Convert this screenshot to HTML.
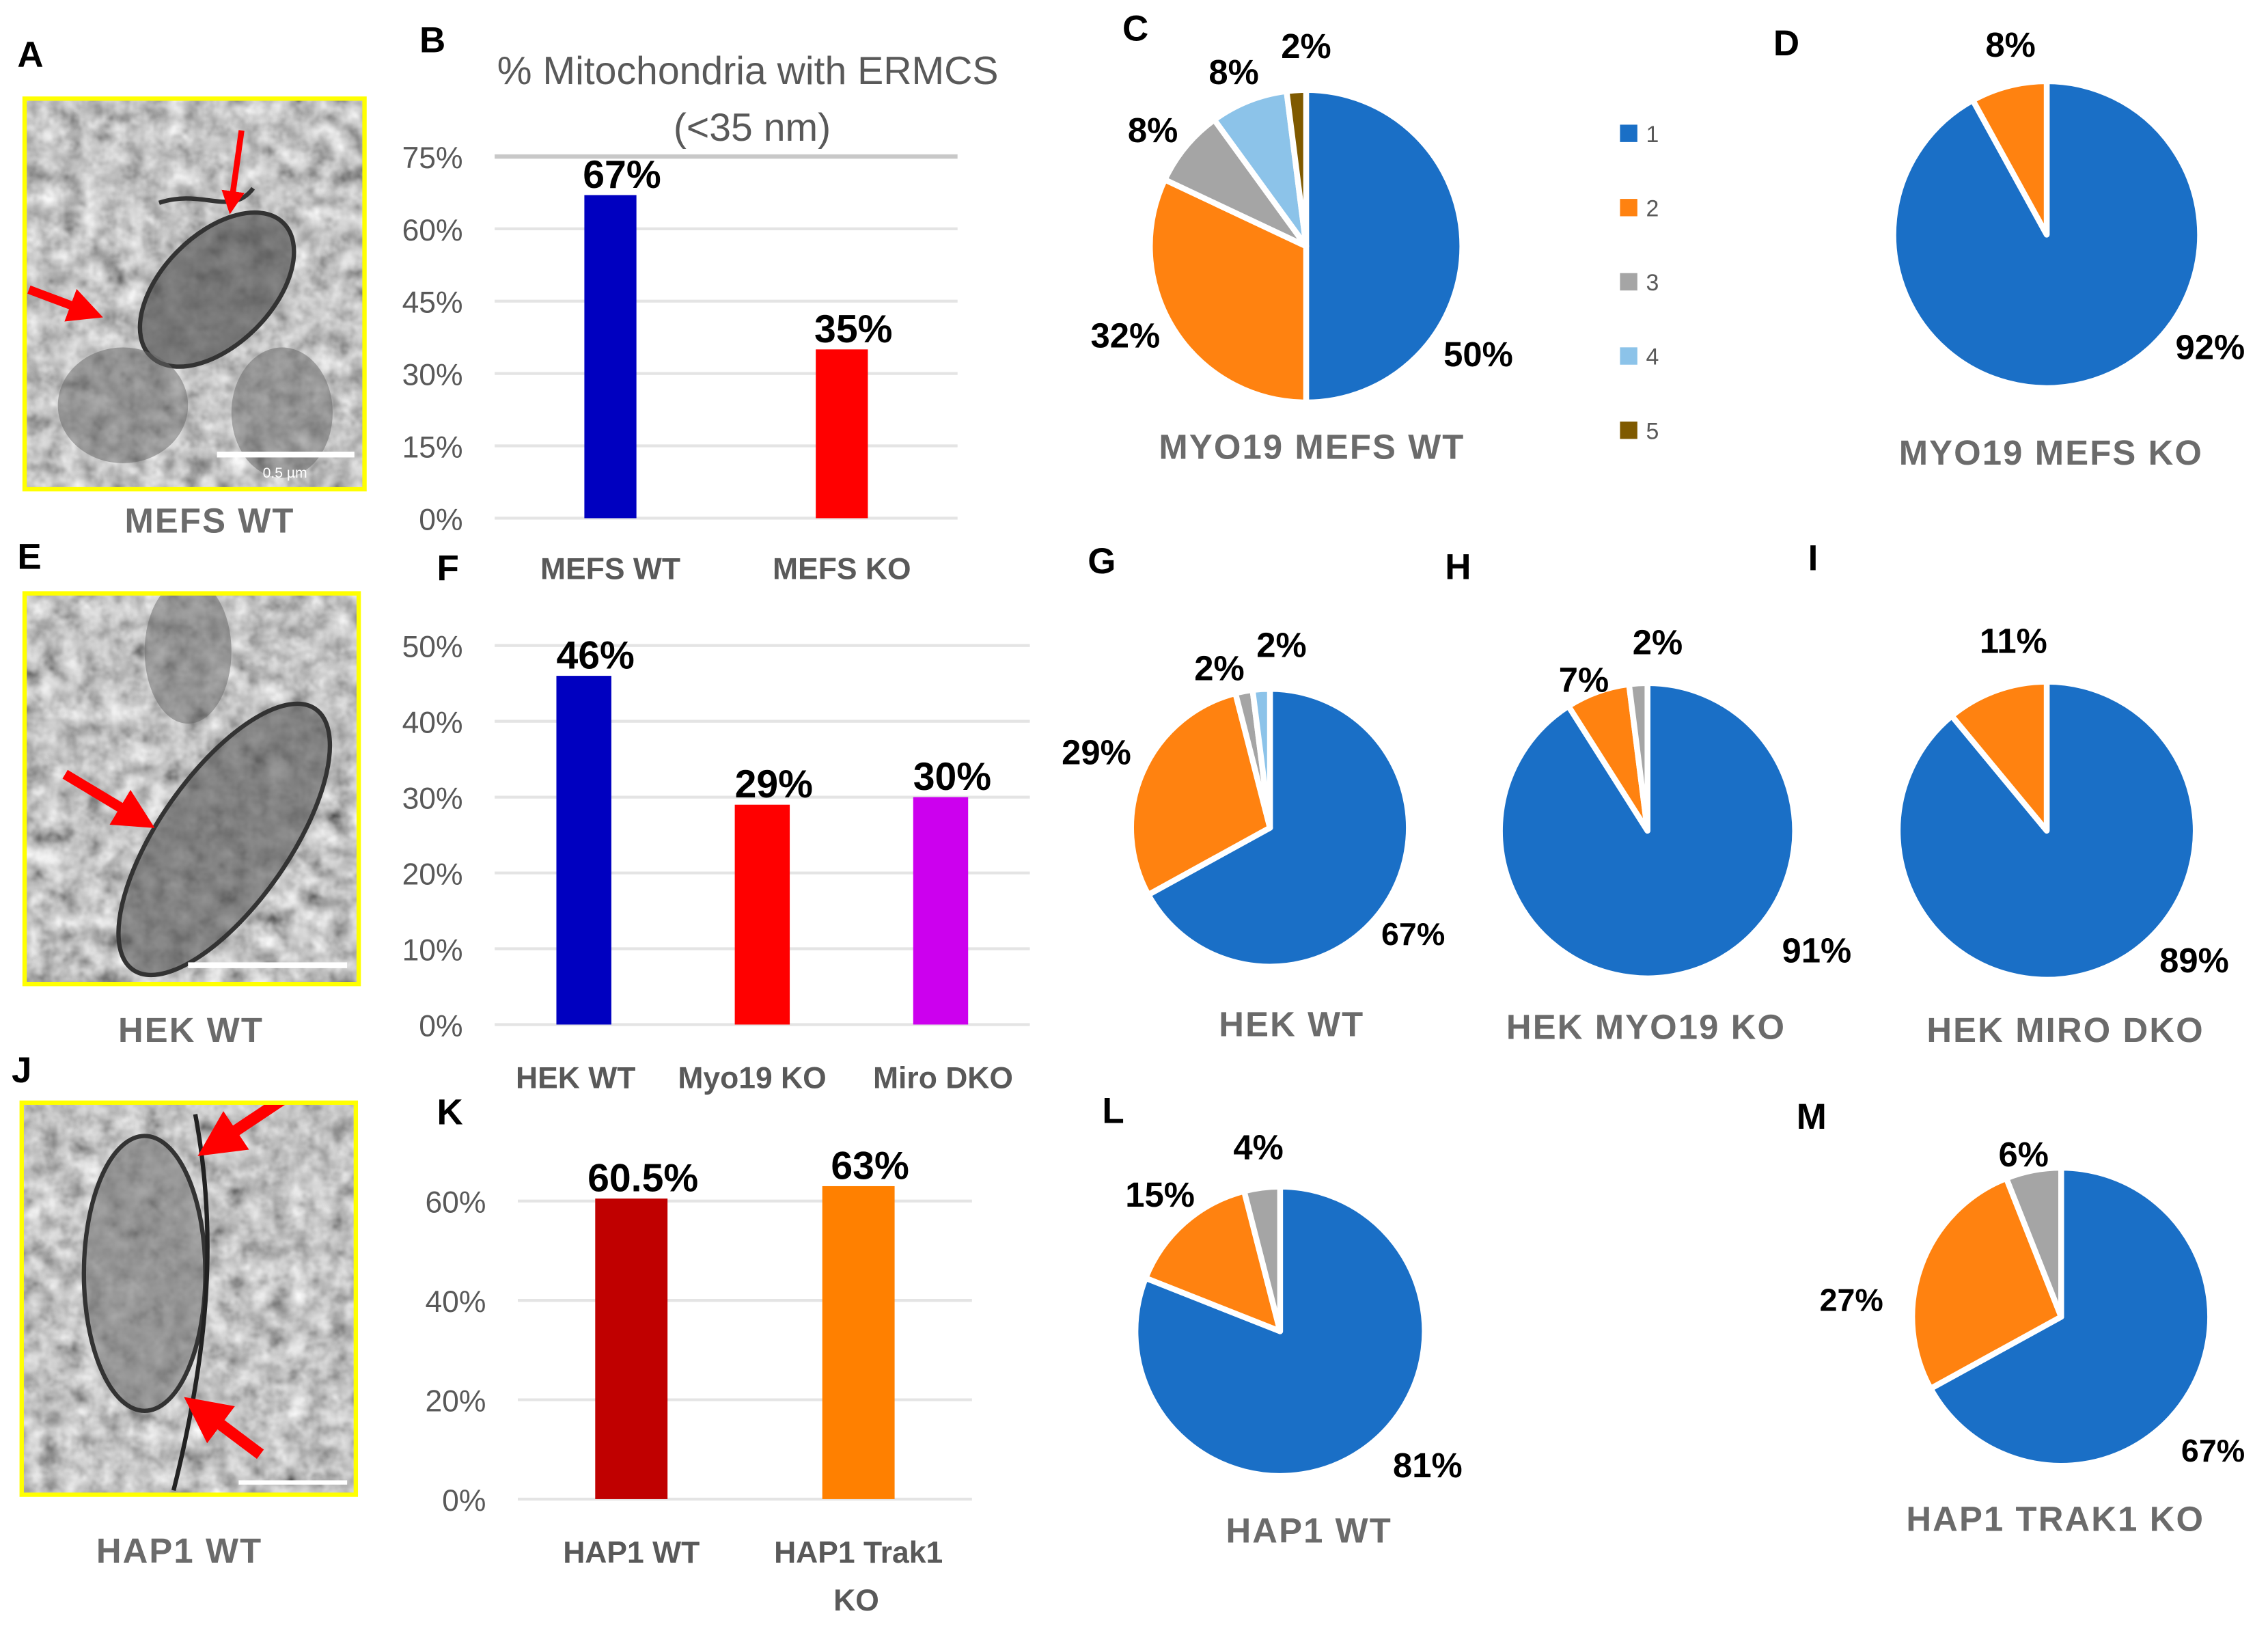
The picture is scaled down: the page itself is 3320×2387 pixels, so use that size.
<!DOCTYPE html>
<html><head><meta charset="utf-8"><style>
html,body{margin:0;padding:0;background:#fff;}
svg{display:block;font-family:"Liberation Sans",Arial,sans-serif;}
.lt{font-weight:bold;font-size:25px;fill:#000;}
.tk{font-size:21px;fill:#595959;}
.vl{font-weight:bold;font-size:27px;fill:#000;}
.ct{font-weight:bold;font-size:21px;fill:#595959;}
.pt{font-weight:bold;font-size:24px;fill:#6b6b6b;letter-spacing:1px;}
.pl{font-weight:bold;font-size:24px;fill:#000;}
</style></head><body>
<svg id="fig" width="3320" height="2387" viewBox="0 0 1568 1127" xmlns="http://www.w3.org/2000/svg">
<defs>
<filter id="em" x="0" y="0" width="100%" height="100%">
<feTurbulence type="fractalNoise" baseFrequency="0.07" numOctaves="3" seed="3"/>
<feColorMatrix type="matrix" values="0.33 0.33 0.33 0 0  0.33 0.33 0.33 0 0  0.33 0.33 0.33 0 0  0 0 0 0 1"/>
<feComponentTransfer><feFuncR type="linear" slope="1.6" intercept="-0.25"/><feFuncG type="linear" slope="1.6" intercept="-0.25"/><feFuncB type="linear" slope="1.6" intercept="-0.25"/></feComponentTransfer>
</filter>
<clipPath id="c1"><rect x="17" y="68" width="235" height="270"/></clipPath>
<clipPath id="c2"><rect x="17" y="410" width="231" height="270"/></clipPath>
<clipPath id="c3"><rect x="15" y="762" width="231" height="271"/></clipPath>
<marker id="ah" markerWidth="4" markerHeight="4" refX="2" refY="2" orient="auto"><path d="M0,0 L4,2 L0,4 z" fill="#f00"/></marker>
</defs>
<g id="root"></g>
</svg>
<script>
// ---------- data ----------
const barBcats = ["MEFS WT","MEFS KO"];
const barBvals = [67,35];
const barBlabels = ["67%","35%"];
const barBticks = [0,15,30,45,60,75];
const barFcats = ["HEK WT","Myo19 KO","Miro DKO"];
const barFvals = [46,29,30];
const barFlabels = ["46%","29%","30%"];
const barFticks = [0,10,20,30,40,50];
const barKcats = ["HAP1 WT","HAP1 Trak1"];
const barKvals = [60.5,63];
const barKlabels = ["60.5%","63%"];
const barKticks = [0,20,40,60];
const pieC = [50,32,8,8,2];
const pieD = [92,8];
const pieG = [67,29,2,2];
const pieH = [91,7,2];
const pieI = [89,11];
const pieL = [81,15,4];
const pieM = [67,27,6];
const legendLabels = ["1","2","3","4","5"];

const NS="http://www.w3.org/2000/svg";
const root=document.getElementById('root');
function mk(tag,attrs,parent,txt){const e=document.createElementNS(NS,tag);for(const k in attrs)e.setAttribute(k,attrs[k]);if(txt!==undefined)e.textContent=txt;(parent||root).appendChild(e);return e;}
const pieColors=["#1a6fc6","#ff8210","#a5a5a5","#8cc3e9","#7f5a00"];

function text(x,y,s,cls,name,anchor){const t=mk('text',{x:x,y:y,class:cls,'text-anchor':anchor||'middle'},root,s);

return t;}

// EM images
function em(x,y,w,h,name,clip,draw){
 const g=mk('g',{'clip-path':'url(#'+clip+')'});
 
 
 mk('rect',{x:x,y:y,width:w,height:h,fill:'#999',filter:'url(#em)'},g);
 draw(g);
 const b=mk('rect',{x:x,y:y,width:w,height:h,fill:'none',stroke:'#ffff00','stroke-width':3});
 
 
}
em(17,68,235,270,'em-image-mefs','c1',g=>{
 mk('ellipse',{cx:150,cy:200,rx:38,ry:65,transform:'rotate(45 150 200)',fill:'#555',stroke:'#333','stroke-width':3,'fill-opacity':0.7},g);
 mk('ellipse',{cx:85,cy:280,rx:45,ry:40,fill:'#666','fill-opacity':0.5},g);
 mk('ellipse',{cx:195,cy:285,rx:35,ry:45,fill:'#666','fill-opacity':0.5},g);
 mk('path',{d:'M110,140 C140,130 160,150 175,130',stroke:'#333','stroke-width':3,fill:'none'},g);
 mk('line',{x1:167,y1:90,x2:160,y2:140,stroke:'#f00','stroke-width':4,'marker-end':'url(#ah)'},g);
 mk('line',{x1:20,y1:200,x2:60,y2:215,stroke:'#f00','stroke-width':6,'marker-end':'url(#ah)'},g);
 mk('rect',{x:150,y:312,width:95,height:4,fill:'#fff'},g);
 mk('text',{x:197,y:330,'font-size':10,fill:'#fff','text-anchor':'middle'},g,'0.5 µm');
});
em(17,410,231,270,'em-image-hek','c2',g=>{
 mk('ellipse',{cx:155,cy:580,rx:45,ry:110,transform:'rotate(35 155 580)',fill:'#555','fill-opacity':0.6,stroke:'#333','stroke-width':3},g);
 mk('ellipse',{cx:130,cy:450,rx:30,ry:50,fill:'#666','fill-opacity':0.5},g);
 mk('line',{x1:45,y1:535,x2:95,y2:565,stroke:'#f00','stroke-width':7,'marker-end':'url(#ah)'},g);
 mk('rect',{x:130,y:665,width:110,height:4,fill:'#fff'},g);
});
em(15,762,231,271,'em-image-hap1','c3',g=>{
 mk('ellipse',{cx:100,cy:880,rx:42,ry:95,fill:'#777','fill-opacity':0.6,stroke:'#333','stroke-width':3},g);
 mk('path',{d:'M135,770 C150,850 145,930 120,1030',stroke:'#222','stroke-width':3,fill:'none'},g);
 mk('line',{x1:195,y1:760,x2:150,y2:790,stroke:'#f00','stroke-width':8,'marker-end':'url(#ah)'},g);
 mk('line',{x1:180,y1:1005,x2:140,y2:975,stroke:'#f00','stroke-width':8,'marker-end':'url(#ah)'},g);
 mk('rect',{x:165,y:1023,width:75,height:3,fill:'#fff'},g);
});

// Bar chart
function bars(name,cats,vals,labels,ticks,colors,y0,yTop,x0,x1,barW,catY,catX){
 const g=mk('g',{});
 
 
 const tmax=ticks[ticks.length-1];
 const ys=v=>y0-(v/tmax)*(y0-yTop);
 ticks.forEach(t=>{
  const top=t===tmax&&name==='bar-chart-b';
  const l=mk('line',{x1:x0,x2:x1,y1:ys(t),y2:ys(t),stroke:top?'#c8c8c8':'#e4e4e4','stroke-width':top?3:2},g);
  
  
  const tt=mk('text',{x:x0-22,y:ys(t)+8,class:'tk','text-anchor':'end'},g,t+'%');
  
  
 });
 const band=(x1-x0)/cats.length;
 cats.forEach((c,i)=>{
  const cx=x0+band*(i+0.5);
  const r=mk('rect',{x:cx-barW/2,y:ys(vals[i]),width:barW,height:y0-ys(vals[i]),fill:colors[i]},g);
  
  
  const v=mk('text',{x:cx+8,y:ys(vals[i])-5,class:'vl','text-anchor':'middle'},g,labels[i]);
  
  
  const ct=mk('text',{x:catX?catX[i]:cx,y:catY,class:'ct','text-anchor':'middle'},g,c);
  
  
 });
 return g;
}
bars('bar-chart-b',barBcats,barBvals,barBlabels,barBticks,['#0000c0','#ff0000'],358,108,342,662,36,400);
bars('bar-chart-f',barFcats,barFvals,barFlabels,barFticks,['#0000c0','#ff0000','#cc00ee'],708,446,342,712,38,752,[398,520,652]);
bars('bar-chart-k',barKcats,barKvals,barKlabels,barKticks,['#c00000','#ff8000'],1036,830,358,672,50,1080);
text(592,1113,'KO','ct','category-label-ko');
text(517,58,'% Mitochondria with ERMCS','tk','chart-title-b').setAttribute('style','font-size:27px');
text(520,97,'(<35 nm)','tk','chart-subtitle-b').setAttribute('style','font-size:27px');

// Pies
function pie(name,cx,cy,r,vals){
 const g=mk('g',{});
 
 
 const tot=vals.reduce((a,b)=>a+b,0);
 let a=-Math.PI/2;
 vals.forEach((v,i)=>{
  const a2=a+v/tot*2*Math.PI;
  const large=(a2-a)>Math.PI?1:0;
  const d=`M${cx},${cy} L${cx+r*Math.cos(a)},${cy+r*Math.sin(a)} A${r},${r} 0 ${large} 1 ${cx+r*Math.cos(a2)},${cy+r*Math.sin(a2)} Z`;
  const p=mk('path',{d:d,fill:pieColors[i],stroke:'#fff','stroke-width':4,'stroke-linejoin':'round'},g);
  
  
  a=a2;
 });
}
pie('pie-c',903,170,108,pieC);
pie('pie-d',1415,162,106,pieD);
pie('pie-g',878,572,96,pieG);
pie('pie-h',1139,574,102,pieH);
pie('pie-i',1415,574,103,pieI);
pie('pie-l',885,920,100,pieL);
pie('pie-m',1425,910,103,pieM);

// pie percent labels
[[1022,253,'50%'],[778,240,'32%'],[797,98,'8%'],[853,58,'8%'],[903,40,'2%'],
 [1390,39,'8%'],[1528,248,'92%'],
 [977,653,'67%','s'],[758,528,'29%'],[843,470,'2%'],[886,454,'2%'],
 [1256,665,'91%'],[1095,478,'7%'],[1146,452,'2%'],
 [1392,451,'11%'],[1517,672,'89%'],
 [987,1021,'81%'],[802,834,'15%'],[870,801,'4%'],
 [1530,1010,'67%','s'],[1280,906,'27%','s'],[1399,806,'6%']
].forEach(l=>{const t=text(l[0],l[1],l[2],'pl','pie-percent-label');if(l[3])t.setAttribute('style','font-size:22px');});

// pie titles
[[907,317,'MYO19 MEFS WT'],[1418,321,'MYO19 MEFS KO'],[893,716,'HEK WT'],[1138,718,'HEK MYO19 KO'],[1428,720,'HEK MIRO DKO'],[905,1066,'HAP1 WT'],[1421,1058,'HAP1 TRAK1 KO'],
 [145,368,'MEFS WT'],[132,720,'HEK WT'],[124,1080,'HAP1 WT']
].forEach(l=>text(l[0],l[1],l[2],'pt','panel-title'));

// panel letters
[[12,46,'A'],[290,36,'B'],[776,28,'C'],[1226,38,'D'],[12,393,'E'],[302,401,'F'],[752,396,'G'],[999,400,'H'],[1250,394,'I'],[8,748,'J'],[302,777,'K'],[762,776,'L'],[1242,780,'M']
].forEach(l=>text(l[0],l[1],l[2],'lt','panel-letter','start'));

// legend
legendLabels.forEach((s,i)=>{
 const y=92+i*51.3;
 const r=mk('rect',{x:1120,y:y-6,width:12,height:12,fill:pieColors[i]});
 
 
 const t=mk('text',{x:1138,y:y+6,'font-size':16,fill:'#595959'},root,s);
 
 
});
</script>
</body></html>
